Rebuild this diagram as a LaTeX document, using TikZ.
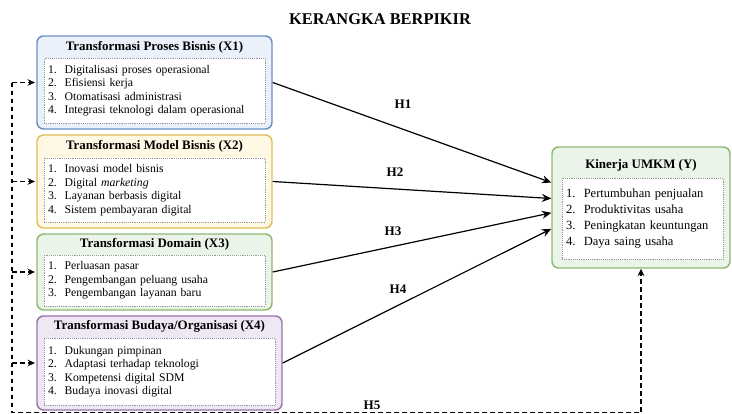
\documentclass[tikz,border=0pt]{standalone}
\usepackage{fontspec}
\setmainfont{Liberation Serif}
\usetikzlibrary{arrows.meta,positioning,calc}
\definecolor{blueline}{HTML}{6C8EBF}
\definecolor{bluefill}{HTML}{EAF1FB}
\definecolor{yellowline}{HTML}{E3BE56}
\definecolor{yellowfill}{HTML}{FFF8E4}
\definecolor{greenline}{HTML}{8CBA72}
\definecolor{greenfill}{HTML}{EBF4E8}
\definecolor{purpleline}{HTML}{9673A6}
\definecolor{purplefill}{HTML}{EFE8F4}
\tikzset{
	varbox/.style={draw, line width=1.1pt, rounded corners=5pt, inner sep=0pt},
	listbox/.style={draw=gray!80, densely dotted, fill=white, inner sep=3pt, align=left,
			font=\fontsize{8.8}{10.1}\selectfont},
	boxtitle/.style={font=\fontsize{9.7}{12}\selectfont\bfseries},
	harrow/.style={line width=0.9pt, -{Stealth[length=7pt,width=6pt]}},
	hlabel/.style={font=\fontsize{9.8}{11}\selectfont\bfseries},
	dasharrow/.style={line width=1.2pt, dash pattern=on 3.5pt off 2.5pt, -{Stealth[length=5.5pt,width=5pt]}}
}

\begin{document}
\begin{tikzpicture}[x=0.75pt,y=-0.75pt]
	\useasboundingbox (0,0) rectangle (732,414);
	\node[font=\fontsize{12.3}{14}\selectfont\bfseries] (judul) at (380,19) {KERANGKA BERPIKIR};
	% variabel X1 - X4
	\node[varbox, draw=blueline, fill=bluefill, minimum width=176.25pt, minimum height=69.75pt] (x1) at (154.5,82.5) {};
	\node[varbox, draw=yellowline, fill=yellowfill, minimum width=176.25pt, minimum height=69.75pt] (x2) at (154.5,181.5) {};
	\node[varbox, draw=greenline, fill=greenfill, minimum width=176.25pt, minimum height=57pt] (x3) at (154.5,272) {};
	\node[varbox, draw=purpleline, fill=purplefill, minimum width=183.75pt, minimum height=70.5pt] (x4) at (159.5,363) {};
	\node[varbox, draw=greenline, fill=greenfill, minimum width=133.5pt, minimum height=90.75pt] (y) at (641,207.5) {};
	
	\node[boxtitle] (t1) at (154.5,47) {Transformasi Proses Bisnis (X1)};
	\node[boxtitle] (t2) at (154.5,146) {Transformasi Model Bisnis (X2)};
	\node[boxtitle] (t3) at (154.5,244) {Transformasi Domain (X3)};
	\node[boxtitle] (t4) at (159.5,326) {Transformasi Budaya/Organisasi (X4)};
	\node[boxtitle] (ty) at (641,165) {Kinerja UMKM (Y)};
	
	\node[listbox, text width=159.75pt, minimum height=48.75pt] (l1) at (154.5,90.5) {1.\ \ Digitalisasi proses operasional\\2.\ \ Efisiensi kerja\\3.\ \ Otomatisasi administrasi\\4.\ \ Integrasi teknologi dalam operasional};
	\node[listbox, text width=159.75pt, minimum height=48pt] (l2) at (154.5,190) {1.\ \ Inovasi model bisnis\\2.\ \ Digital \textit{marketing}\\3.\ \ Layanan berbasis digital\\4.\ \ Sistem pembayaran digital};
	\node[listbox, text width=159.75pt, minimum height=38.25pt] (l3) at (154.5,280.5) {1.\ \ Perluasan pasar\\2.\ \ Pengembangan peluang usaha\\3.\ \ Pengembangan layanan baru};
	\node[listbox, text width=167.25pt, minimum height=50.25pt] (l4) at (159.5,371.5) {1.\ \ Dukungan pimpinan\\2.\ \ Adaptasi terhadap teknologi\\3.\ \ Kompetensi digital SDM\\4.\ \ Budaya inovasi digital};
	\node[listbox, text width=114.75pt, minimum height=60.75pt, font=\fontsize{9.4}{12}\selectfont] (ly) at (642.5,218.5) {1.\ \ Pertumbuhan penjualan\\2.\ \ Produktivitas usaha\\3.\ \ Peningkatan keuntungan\\4.\ \ Daya saing usaha};
	
	% hipotesis H1 - H4
	\draw[harrow] (x1.east) -- ([yshift=18.75pt]y.west);
	\draw[harrow] (x2.east) -- ([yshift=6.75pt]y.west);
	\draw[harrow] (x3.east) -- ([yshift=-4pt]y.west);
	\draw[harrow] (x4.east) -- ([yshift=-16pt]y.west);
	\node[hlabel] (h1) at (403,104) {H1};
	\node[hlabel] (h2) at (395,172) {H2};
	\node[hlabel] (h3) at (393,231) {H3};
	\node[hlabel] (h4) at (398,289) {H4};
	
	% H5 (simultan)
	\coordinate (pojok) at (12,412.5);
	\draw[dasharrow] (x1.west -| pojok) -- (pojok) -| (y.south);
	\foreach \v in {x1,x2,x3,x4}
		\draw[dasharrow] (\v.west -| pojok) -- ([xshift=-1pt]\v.west);
	\node[hlabel] (h5) at (372,405) {H5};
\end{tikzpicture}
\end{document}
